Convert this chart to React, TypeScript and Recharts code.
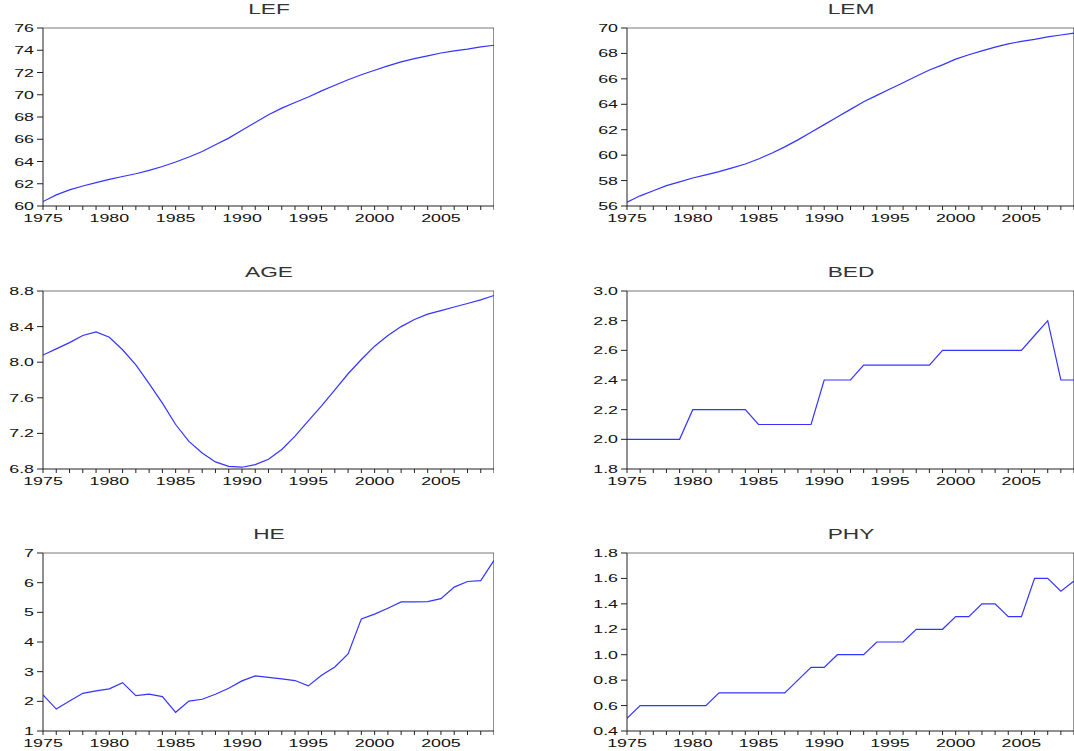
import React from "react";
import { LineChart, Line, XAxis, YAxis, ReferenceLine } from "recharts";

const YEARS = [1975, 1976, 1977, 1978, 1979, 1980, 1981, 1982, 1983, 1984, 1985, 1986, 1987, 1988, 1989, 1990, 1991, 1992, 1993, 1994, 1995, 1996, 1997, 1998, 1999, 2000, 2001, 2002, 2003, 2004, 2005, 2006, 2007, 2008, 2009];

const LEF = [60.4, 61.0, 61.45, 61.8, 62.1, 62.4, 62.65, 62.9, 63.2, 63.55, 63.95, 64.4, 64.9, 65.5, 66.1, 66.8, 67.5, 68.2, 68.8, 69.3, 69.8, 70.35, 70.85, 71.35, 71.8, 72.2, 72.6, 72.95, 73.25, 73.5, 73.75, 73.95, 74.1, 74.3, 74.45];
const LEM = [56.3, 56.8, 57.2, 57.6, 57.9, 58.2, 58.45, 58.7, 59.0, 59.3, 59.7, 60.15, 60.65, 61.2, 61.8, 62.4, 63.0, 63.6, 64.2, 64.7, 65.2, 65.7, 66.2, 66.7, 67.1, 67.55, 67.9, 68.2, 68.5, 68.75, 68.95, 69.1, 69.3, 69.45, 69.6];
const AGE = [8.08, 8.15, 8.22, 8.30, 8.34, 8.28, 8.14, 7.97, 7.76, 7.54, 7.30, 7.11, 6.98, 6.88, 6.83, 6.82, 6.85, 6.91, 7.02, 7.17, 7.34, 7.51, 7.69, 7.87, 8.03, 8.18, 8.30, 8.40, 8.48, 8.54, 8.58, 8.62, 8.66, 8.70, 8.75];
const BED = [2.0, 2.0, 2.0, 2.0, 2.0, 2.2, 2.2, 2.2, 2.2, 2.2, 2.1, 2.1, 2.1, 2.1, 2.1, 2.4, 2.4, 2.4, 2.5, 2.5, 2.5, 2.5, 2.5, 2.5, 2.6, 2.6, 2.6, 2.6, 2.6, 2.6, 2.6, 2.7, 2.8, 2.4, 2.4];
const HE = [2.22, 1.74, 2.01, 2.27, 2.35, 2.42, 2.63, 2.19, 2.24, 2.16, 1.63, 2.01, 2.07, 2.24, 2.44, 2.69, 2.86, 2.81, 2.76, 2.70, 2.52, 2.88, 3.16, 3.60, 4.78, 4.94, 5.14, 5.35, 5.35, 5.36, 5.46, 5.85, 6.04, 6.07, 6.75];
const PHY = [0.5, 0.6, 0.6, 0.6, 0.6, 0.6, 0.6, 0.7, 0.7, 0.7, 0.7, 0.7, 0.7, 0.8, 0.9, 0.9, 1.0, 1.0, 1.0, 1.1, 1.1, 1.1, 1.2, 1.2, 1.2, 1.3, 1.3, 1.4, 1.4, 1.3, 1.3, 1.6, 1.6, 1.5, 1.58];

const LEF_TICKS = [60, 62, 64, 66, 68, 70, 72, 74, 76];
const LEM_TICKS = [56, 58, 60, 62, 64, 66, 68, 70];
const AGE_TICKS = [6.8, 7.2, 7.6, 8.0, 8.4, 8.8];
const BED_TICKS = [1.8, 2.0, 2.2, 2.4, 2.6, 2.8, 3.0];
const HE_TICKS = [1, 2, 3, 4, 5, 6, 7];
const PHY_TICKS = [0.4, 0.6, 0.8, 1.0, 1.2, 1.4, 1.6, 1.8];
const LABEL_YEARS = [1975, 1980, 1985, 1990, 1995, 2000, 2005];

const rows = YEARS.map((year, i) => ({
  year,
  LEF: LEF[i],
  LEM: LEM[i],
  AGE: AGE[i],
  BED: BED[i],
  HE: HE[i],
  PHY: PHY[i],
}));

const FONT = "'Liberation Sans', Arial, sans-serif";
const SX = 1.62;
const LINE_COLOR = "#3434ff";

const XTick = (props: any) => {
  const { x, y, payload } = props;
  if (!LABEL_YEARS.includes(payload.value)) return null;
  return (
    <g transform={`translate(${x},${y})`}>
      <text
        x={0}
        y={10}
        textAnchor="middle"
        transform={`scale(${SX},1)`}
        fontFamily={FONT}
        fontSize={11}
        fill="#111"
      >
        {payload.value}
      </text>
    </g>
  );
};

const makeYTick = (decimals: number) => (props: any) => {
  const { x, y, payload } = props;
  return (
    <g transform={`translate(${x},${y})`}>
      <text
        x={0}
        y={4}
        textAnchor="end"
        transform={`scale(${SX},1)`}
        fontFamily={FONT}
        fontSize={11}
        fill="#111"
      >
        {Number(payload.value).toFixed(decimals)}
      </text>
    </g>
  );
};

type PanelProps = {
  title: string;
  dataKey: string;
  left: number;
  top: number;
  width: number;
  domain: [number, number];
  ticks: number[];
  decimals: number;
};

const PLOT_H = 178;
const MARGIN_TOP = 28;
const X_AXIS_H = 20;
const Y_AXIS_W = 43;

const Panel = ({ title, dataKey, left, top, width, domain, ticks, decimals }: PanelProps) => {
  const height = MARGIN_TOP + PLOT_H + X_AXIS_H;
  const plotLeft = left + Y_AXIS_W;
  const plotRight = left + width;
  const center = (plotLeft + plotRight) / 2;
  return (
    <>
      <div
        style={{
          position: "absolute",
          left: center,
          top: top + 1,
          transform: `translateX(-50%) scaleX(${SX})`,
          fontFamily: FONT,
          fontSize: 14,
          lineHeight: "16px",
          color: "#333",
          whiteSpace: "nowrap",
        }}
      >
        {title}
      </div>
      <div style={{ position: "absolute", left, top }}>
        <LineChart
          width={width}
          height={height}
          data={rows}
          margin={{ top: MARGIN_TOP, right: 0, bottom: 0, left: 0 }}
        >
          <XAxis
            dataKey="year"
            type="number"
            domain={[1975, 2009]}
            ticks={YEARS}
            interval={0}
            tickSize={4}
            tickMargin={2}
            height={X_AXIS_H}
            axisLine={{ stroke: "#222" }}
            tickLine={{ stroke: "#222" }}
            tick={<XTick />}
            allowDataOverflow
          />
          <YAxis
            type="number"
            domain={domain}
            ticks={ticks}
            interval={0}
            width={Y_AXIS_W}
            tickSize={6}
            tickMargin={3}
            axisLine={{ stroke: "#222" }}
            tickLine={{ stroke: "#222" }}
            tick={makeYTick(decimals)}
            allowDataOverflow
          />
          <ReferenceLine y={domain[1]} stroke="#777" strokeWidth={1} />
          <ReferenceLine x={2009} stroke="#222" strokeWidth={1} />
          <Line
            type="linear"
            dataKey={dataKey}
            stroke={LINE_COLOR}
            strokeWidth={1.2}
            dot={false}
            isAnimationActive={false}
          />
        </LineChart>
      </div>
    </>
  );
};

export default function App() {
  return (
    <div
      style={{
        position: "absolute",
        left: 0,
        top: 0,
        width: 1074,
        height: 751,
        background: "#fff",
        overflow: "hidden",
      }}
    >
      <Panel title="LEF" dataKey="LEF" left={0} top={0} width={494} domain={[60, 76]} ticks={LEF_TICKS} decimals={0} />
      <Panel title="LEM" dataKey="LEM" left={584} top={0} width={490} domain={[56, 70]} ticks={LEM_TICKS} decimals={0} />
      <Panel title="AGE" dataKey="AGE" left={0} top={263} width={494} domain={[6.8, 8.8]} ticks={AGE_TICKS} decimals={1} />
      <Panel title="BED" dataKey="BED" left={584} top={263} width={490} domain={[1.8, 3.0]} ticks={BED_TICKS} decimals={1} />
      <Panel title="HE" dataKey="HE" left={0} top={525} width={494} domain={[1, 7]} ticks={HE_TICKS} decimals={0} />
      <Panel title="PHY" dataKey="PHY" left={584} top={525} width={490} domain={[0.4, 1.8]} ticks={PHY_TICKS} decimals={1} />
    </div>
  );
}
